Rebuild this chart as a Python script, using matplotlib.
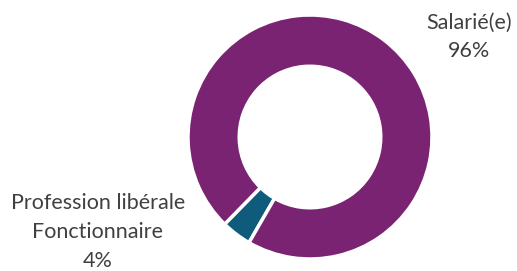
import matplotlib
matplotlib.use('Agg')
import matplotlib.pyplot as plt

labels = ['Profession libérale\nFonctionnaire', 'Salarié(e)']
shares = [4, 96]
colors = ['#0f5b7c', '#7b2373']

plt.rcParams['font.family'] = ['Lato', 'DejaVu Sans']

fig = plt.figure(figsize = (5.17, 2.71), dpi = 100)
ax = fig.add_axes([0, 0, 1, 1])

ax.pie(
    shares,
    colors = colors,
    center = (310, 134),
    radius = 122,
    startangle = 240,
    counterclock = False,
    wedgeprops = dict(width = 122 * 0.42, edgecolor = 'white', linewidth = 2.5),
    frame = True,
)
ax.set_xlim(0, 517)
ax.set_ylim(0, 271)
ax.set_aspect('equal')
ax.axis('off')

txt = dict(color = '#404040', fontsize = 15.5, ha = 'center', va = 'center', linespacing = 1.55)
ax.text(469, 271 - 37, f'{labels[1]}\n{shares[1]}%', **txt)
ax.text(98, 271 - 232, f'{labels[0]}\n{shares[0]}%', **txt)

fig.savefig('out.png', dpi = 100)
